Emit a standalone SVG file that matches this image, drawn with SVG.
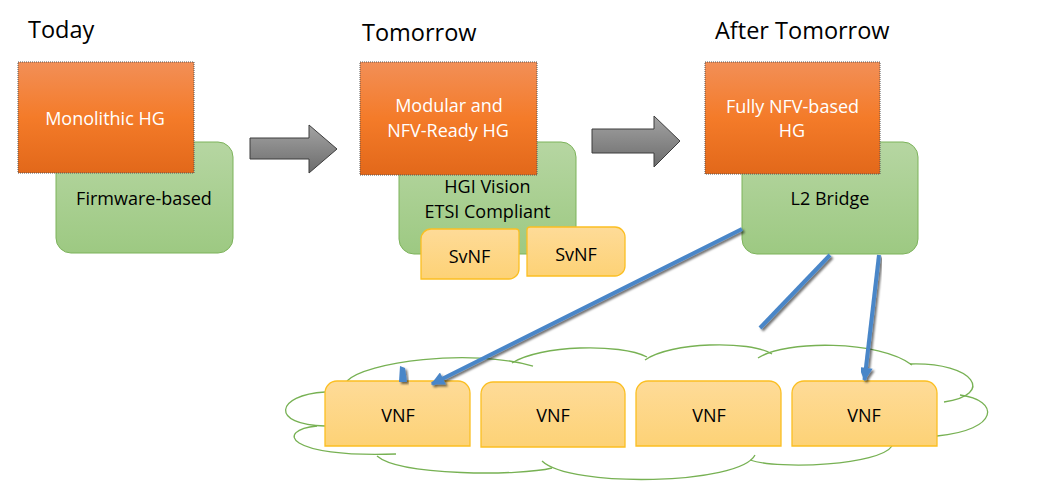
<svg xmlns="http://www.w3.org/2000/svg" width="1038" height="485" viewBox="0 0 1038 485">
<defs>
<linearGradient id="gOrange" x1="0" y1="0" x2="0" y2="1">
<stop offset="0" stop-color="#f28f57"/>
<stop offset="0.5" stop-color="#f47b29"/>
<stop offset="1" stop-color="#e2681a"/>
</linearGradient>
<linearGradient id="gGreen" x1="0" y1="0" x2="0" y2="1">
<stop offset="0" stop-color="#b6d6a2"/>
<stop offset="1" stop-color="#9dc982"/>
</linearGradient>
<linearGradient id="gYellow" x1="0" y1="0" x2="0" y2="1">
<stop offset="0" stop-color="#fedb98"/>
<stop offset="1" stop-color="#fdd276"/>
</linearGradient>
<linearGradient id="gGray" x1="0" y1="0" x2="0" y2="1">
<stop offset="0" stop-color="#a3a3a3"/>
<stop offset="1" stop-color="#6c6c6c"/>
</linearGradient>
<filter id="shadow" x="-20%" y="-20%" width="140%" height="140%">
<feDropShadow dx="2" dy="2" stdDeviation="1" flood-color="#000" flood-opacity="0.55"/>
</filter>
<marker id="ah" viewBox="0 0 10 10" refX="9" refY="5" markerWidth="4" markerHeight="3.4" orient="auto" markerUnits="strokeWidth">
<path d="M0,0 L10,5 L0,10 z" fill="#4a86c8"/>
</marker>
<style>
.title{font-family:"Open Sans","Liberation Sans",sans-serif;font-size:23.5px;fill:#000}
.lbl{font-family:"Open Sans","Liberation Sans",sans-serif;font-size:18px;fill:#000;text-anchor:middle}
.wlbl{font-family:"Open Sans","Liberation Sans",sans-serif;font-size:18px;fill:#fff;text-anchor:middle}
.orange{fill:url(#gOrange);stroke:#555;stroke-width:1;stroke-dasharray:1 1}
.green{fill:url(#gGreen);stroke:#7db35b;stroke-width:1}
.yellow{fill:url(#gYellow);stroke:#fbbf22;stroke-width:1.3}
.garrow{fill:url(#gGray);stroke:#3d3d3d;stroke-width:1}
.cloud{fill:none;stroke:#77b153;stroke-width:1.3}
.conn{fill:none;stroke:#4a86c8;stroke-width:4;filter:url(#shadow)}
</style>
</defs>
<rect width="1038" height="485" fill="#fff"/>

<g id="titles">
<text class="title" x="28" y="38">Today</text>
<text class="title" x="362" y="41">Tomorrow</text>
<text class="title" x="715" y="39">After Tomorrow</text>
</g>

<g id="cloud">
<path d="M347,381 C365,362 470,348 533,366" class="cloud"/>
<path d="M512,363 C540,345 620,343 647,357" class="cloud"/>
<path d="M645,360 C670,342 750,340 772,354" class="cloud"/>
<path d="M758,358 C785,340 880,340 912,365" class="cloud"/>
<path d="M910,364 C975,362 995,395 944,402" class="cloud"/>
<path d="M960,395 C1000,400 1000,430 937,436" class="cloud"/>
<path d="M892,446 C880,465 780,470 750,460" class="cloud"/>
<path d="M755,455 C740,485 570,488 542,461" class="cloud"/>
<path d="M552,468 C520,476 400,476 377,456" class="cloud"/>
<path d="M317,426 C275,430 285,458 396,454" class="cloud"/>
<path d="M325,392 C275,395 270,425 325,426" class="cloud"/>
</g>

<g id="arrow1"><polygon class="garrow" points="250,138 309,138 309,125 337,149 309,173 309,159 250,159"/></g>
<g id="arrow2"><polygon class="garrow" points="592,129 654,129 654,116 680,141 654,167 654,153 592,153"/></g>

<g id="firmware">
<rect class="green" x="56" y="142" width="177" height="111" rx="15"/>
<text class="lbl" x="144" y="205">Firmware-based</text>
</g>
<g id="monolithic">
<rect class="orange" x="18" y="62" width="176" height="111"/>
<text class="wlbl" x="105" y="125">Monolithic HG</text>
</g>

<g id="hgi">
<rect class="green" x="399" y="142" width="177" height="112" rx="15"/>
<text class="lbl" x="487.5" y="193">HGI Vision</text>
<text class="lbl" x="487.5" y="218">ETSI Compliant</text>
</g>
<g id="modular">
<rect class="orange" x="360" y="62" width="177" height="113"/>
<text class="wlbl" x="449" y="112">Modular and</text>
<text class="wlbl" x="448" y="137">NFV-Ready HG</text>
</g>
<g id="svnf1">
<path class="yellow" d="M421,279 V239 A10,10 0 0 1 431,229 H516 A3,3 0 0 1 519,232 V269 A10,10 0 0 1 509,279 Z"/>
<text class="lbl" x="469.5" y="263">SvNF</text>
</g>
<g id="svnf2">
<path class="yellow" d="M527,276 V230 A3,3 0 0 1 530,227 H615 A10,10 0 0 1 625,237 V266 A10,10 0 0 1 615,276 Z"/>
<text class="lbl" x="576" y="261">SvNF</text>
</g>

<g id="l2bridge">
<rect class="green" x="742" y="142" width="176" height="112" rx="15"/>
<text class="lbl" x="830" y="205">L2 Bridge</text>
</g>
<g id="fullynfv">
<rect class="orange" x="705" y="62" width="175" height="112"/>
<text class="wlbl" x="792.5" y="113">Fully NFV-based</text>
<text class="wlbl" x="792" y="137">HG</text>
</g>

<g id="vnf1">
<path class="yellow" d="M325,446 V393 A12,12 0 0 1 337,381 H458 A12,12 0 0 1 470,393 V446 Z"/>
<text class="lbl" x="398" y="422">VNF</text>
</g>
<g id="vnf2">
<path class="yellow" d="M481,447 V394 A12,12 0 0 1 493,382 H613 A12,12 0 0 1 625,394 V447 Z"/>
<text class="lbl" x="553" y="422">VNF</text>
</g>
<g id="vnf3">
<path class="yellow" d="M636,446 V393 A12,12 0 0 1 648,381 H769 A12,12 0 0 1 781,393 V446 Z"/>
<text class="lbl" x="709" y="422">VNF</text>
</g>
<g id="vnf4">
<path class="yellow" d="M792,446 V393 A12,12 0 0 1 804,381 H925 A12,12 0 0 1 937,393 V446 Z"/>
<text class="lbl" x="864" y="422">VNF</text>
</g>

<g id="connectors">
<path class="conn" d="M742,229 L432,384" marker-end="url(#ah)"/>
<path class="conn" d="M830,255 L760,328"/>
<path class="conn" d="M879,255 L864.5,380" marker-end="url(#ah)"/>
<polygon points="400,366 405,368 407,382 399,382" fill="#4a86c8" filter="url(#shadow)"/>
</g>
</svg>
